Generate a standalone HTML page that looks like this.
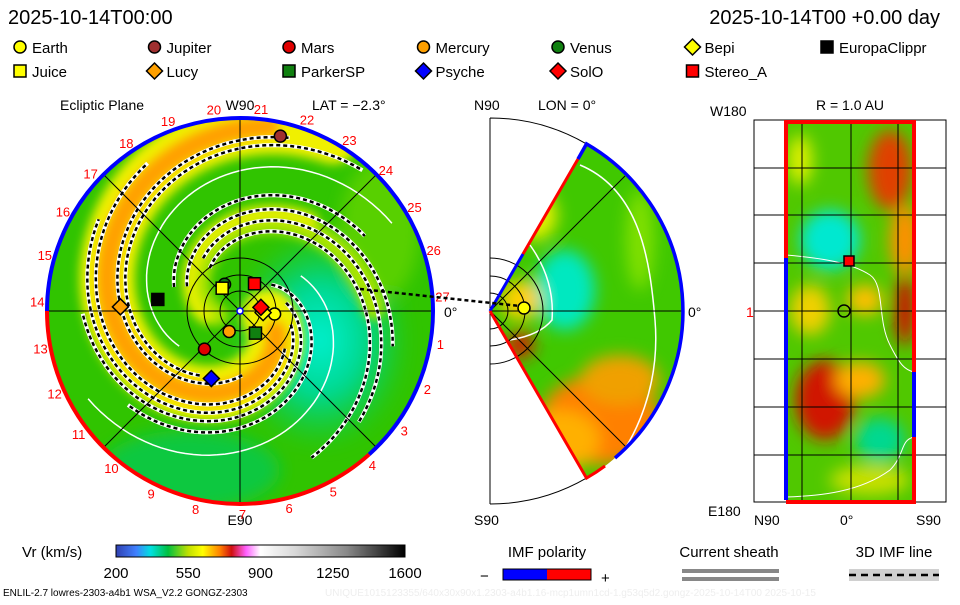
<!DOCTYPE html>
<html><head><meta charset="utf-8">
<style>
body{margin:0;background:#fff;width:960px;height:600px;overflow:hidden;font-family:"Liberation Sans",sans-serif}
svg text{font-family:"Liberation Sans",sans-serif}
</style></head>
<body>
<svg id="root" width="960" height="600" viewBox="0 0 960 600">
<defs>
 <clipPath id="eclip"><circle cx="240" cy="311" r="193"/></clipPath>
 <clipPath id="wclip"><path d="M490,311 L586.5,143.9 A193,193 0 0 1 586.5,478.1 Z"/></clipPath>
 <clipPath id="rclip"><rect x="786" y="122" width="128" height="380"/></clipPath>
 <filter id="blur8" x="-50%" y="-50%" width="200%" height="200%"><feGaussianBlur stdDeviation="8"/></filter>
 <filter id="blur4" x="-50%" y="-50%" width="200%" height="200%"><feGaussianBlur stdDeviation="5"/></filter>
 <radialGradient id="cyanG"><stop offset="0" stop-color="#00f0d0"/><stop offset="0.5" stop-color="#00d890"/><stop offset="1" stop-color="#00d060" stop-opacity="0"/></radialGradient>
 <linearGradient id="cbar" x1="0" x2="1">
  <stop offset="0" stop-color="#3040b0"/><stop offset="0.07" stop-color="#4080ff"/><stop offset="0.12" stop-color="#00e0e0"/>
  <stop offset="0.18" stop-color="#00c040"/><stop offset="0.25" stop-color="#c0e000"/><stop offset="0.3" stop-color="#ffff00"/>
  <stop offset="0.36" stop-color="#ff8000"/><stop offset="0.4" stop-color="#d01010"/><stop offset="0.45" stop-color="#ff60ff"/>
  <stop offset="0.5" stop-color="#ffffff"/><stop offset="0.62" stop-color="#d8d8d8"/><stop offset="0.8" stop-color="#888"/><stop offset="1" stop-color="#000"/>
 </linearGradient>
</defs>

<text x="8" y="24" font-size="20">2025-10-14T00:00</text>
<text x="940" y="24" font-size="20" text-anchor="end">2025-10-14T00 +0.00 day</text>
<g id="legend" font-size="15"></g>

<g>
 <text x="60" y="110" font-size="14">Ecliptic Plane</text>
 <text x="240" y="110" font-size="14" text-anchor="middle">W90</text>
 <text x="312" y="110" font-size="14">LAT = −2.3°</text>
 <text x="240" y="525" font-size="14" text-anchor="middle">E90</text>
 <text x="444" y="317" font-size="14">0°</text>
 <g clip-path="url(#eclip)">
  <circle cx="240" cy="311" r="193" fill="#30c400"/>
  <g filter="url(#blur8)">
   <ellipse cx="320" cy="340" rx="90" ry="110" fill="url(#cyanG)"/>
   <ellipse cx="190" cy="470" rx="90" ry="40" fill="#10c840"/>
   <ellipse cx="380" cy="230" rx="40" ry="70" fill="#58d000"/>
  </g>
  <g id="arms" filter="url(#blur4)"></g>
  <g id="eclines"></g>
 </g>
 <g id="ecgrid" stroke="#000" stroke-width="1" fill="none"></g>
 <g id="ecrim"></g>
 <g id="timelabels" font-size="13" fill="#ff0000"></g>
 <g id="bodies"></g>
</g>

<g>
 <text x="474" y="110" font-size="14">N90</text>
 <text x="538" y="110" font-size="14">LON = 0°</text>
 <text x="474" y="525" font-size="14">S90</text>
 <text x="688" y="317" font-size="14">0°</text>
 <path d="M490,118 A193,193 0 0 1 586.5,143.9 M586.5,478.1 A193,193 0 0 1 490,504 M490,118 L490,504" fill="none" stroke="#000" stroke-width="1"/>
 <g clip-path="url(#wclip)">
  <rect x="490" y="118" width="200" height="390" fill="#40c800"/>
  <g filter="url(#blur8)">
   <ellipse cx="600" cy="420" rx="60" ry="45" fill="#ff8000"/>
   <ellipse cx="560" cy="440" rx="40" ry="30" fill="#ffb000"/>
   <ellipse cx="620" cy="380" rx="40" ry="25" fill="#f0a000"/>
   <ellipse cx="565" cy="290" rx="30" ry="40" fill="#00e8c0"/>
   <ellipse cx="535" cy="215" rx="22" ry="25" fill="#e8f000"/>
   <ellipse cx="520" cy="300" rx="20" ry="20" fill="#ffd000"/>
   <ellipse cx="520" cy="345" rx="14" ry="14" fill="#d02000"/>
   <ellipse cx="640" cy="240" rx="14" ry="50" fill="#80e000"/>
  </g>
  <path d="M580,165 C640,190 650,260 655,320 C660,380 640,440 600,480" fill="none" stroke="#fff" stroke-width="1.5"/>
  <path d="M530,245 Q555,280 552,320 Q540,335 510,340" fill="none" stroke="#fff" stroke-width="1.5"/>
 </g>
 <g stroke="#000" fill="none" stroke-width="1">
  <path d="M490,311 L586.5,143.9 M490,311 L586.5,478.1 M490,311 L683,311 M490,311 L625,176 M490,311 L625,446"/>
  <path d="M490,258 A53,53 0 0 1 490,364 M490,276 A35,35 0 0 1 490,346 M490,293 A18,18 0 0 1 490,329"/>
 </g>
 <path d="M490,311 L523,254" stroke="#0000ff" stroke-width="3"/>
 <path d="M523,254 L578,159" stroke="#ff0000" stroke-width="3"/>
 <path d="M578,159 L586.5,143.9 A193,193 0 0 1 615,458" fill="none" stroke="#0000ff" stroke-width="3.5"/>
 <path d="M490,311 L586.5,478.1 A193,193 0 0 0 605,466" fill="none" stroke="#ff0000" stroke-width="3"/>
 <circle cx="524" cy="308" r="6" fill="#ffff00" stroke="#000" stroke-width="1.5"/>
</g>

<g>
 <text x="850" y="110" font-size="14" text-anchor="middle">R = 1.0 AU</text>
 <text x="710" y="116" font-size="14">W180</text>
 <text x="708" y="516" font-size="14">E180</text>
 <text x="754" y="525" font-size="14">N90</text>
 <text x="840" y="525" font-size="14">0°</text>
 <text x="916" y="525" font-size="14">S90</text>
 <text x="746" y="317" font-size="14" fill="#ff0000">1</text>
 <rect x="754" y="120" width="192" height="382" fill="none" stroke="#000"/>
 <g clip-path="url(#rclip)">
  <rect x="786" y="122" width="128" height="380" fill="#50c800"/>
  <g filter="url(#blur8)">
   <ellipse cx="890" cy="170" rx="22" ry="40" fill="#e04000"/>
   <ellipse cx="905" cy="240" rx="15" ry="35" fill="#ff9000"/>
   <ellipse cx="830" cy="240" rx="30" ry="30" fill="#00e8d0"/>
   <ellipse cx="825" cy="400" rx="30" ry="40" fill="#d01800"/>
   <ellipse cx="860" cy="380" rx="25" ry="18" fill="#ffb000"/>
   <ellipse cx="905" cy="310" rx="10" ry="35" fill="#d01000"/>
   <ellipse cx="810" cy="310" rx="20" ry="25" fill="#f0d000"/>
   <ellipse cx="865" cy="300" rx="18" ry="15" fill="#ffc000"/>
   <ellipse cx="880" cy="440" rx="25" ry="22" fill="#00d890"/>
   <ellipse cx="800" cy="160" rx="12" ry="25" fill="#e0f000"/>
   <ellipse cx="870" cy="480" rx="40" ry="15" fill="#c8e000"/>
  </g>
  <path d="M786,255 C820,258 850,262 870,275 C885,285 877,320 890,345 C900,365 905,370 914,372" fill="none" stroke="#fff" stroke-width="1"/>
  <path d="M786,497 C820,496 860,492 890,470 C905,455 900,440 914,437" fill="none" stroke="#fff" stroke-width="1"/>
 </g>
 <g stroke="#000" stroke-width="1" id="rgrid"></g>
 <path d="M786,258 L786,122 L914,122 L914,372 M914,437 L914,502 L786,502" fill="none" stroke="#ff0000" stroke-width="4"/>
 <path d="M786,258 L786,500 M914,372 L914,437" fill="none" stroke="#0000ff" stroke-width="4"/>
 <rect x="844" y="256" width="10" height="10" fill="#ff0000" stroke="#000" stroke-width="1.5"/>
 <circle cx="844" cy="311" r="6" fill="none" stroke="#000" stroke-width="1.5"/>
</g>

<g>
 <text x="22" y="557" font-size="15">Vr (km/s)</text>
 <rect x="116" y="545" width="289" height="12" fill="url(#cbar)" stroke="#000"/>
 <g id="cbticks" font-size="15" text-anchor="middle"></g>
</g>
<g>
 <text x="547" y="557" font-size="15" text-anchor="middle">IMF polarity</text>
 <rect x="503" y="569" width="44" height="11" fill="#0000ff"/>
 <rect x="547" y="569" width="44" height="11" fill="#ff0000"/>
 <rect x="503" y="569" width="88" height="11" fill="none" stroke="#000"/>
 <text x="480" y="581" font-size="15">−</text><text x="601" y="583" font-size="15">+</text>
</g>
<g>
 <text x="729" y="557" font-size="15" text-anchor="middle">Current sheath</text>
 <rect x="682" y="569" width="97" height="4" fill="#888"/>
 <rect x="682" y="577" width="97" height="4" fill="#888"/>
</g>
<g>
 <text x="894" y="557" font-size="15" text-anchor="middle">3D IMF line</text>
 <rect x="849" y="569" width="90" height="12" fill="#d0d0d0"/>
 <line x1="849" y1="575" x2="939" y2="575" stroke="#000" stroke-width="2.5" stroke-dasharray="7,5"/>
</g>
<text x="3" y="596" font-size="10">ENLIL-2.7 lowres-2303-a4b1 WSA_V2.2 GONGZ-2303</text>
<text x="325" y="596" font-size="10" fill="#eeeeee">UNIQUE1015123355/640x30x90x1.2303-a4b1.16-mcp1umn1cd-1.g53q5d2.gongz-2025-10-14T00   2025-10-15</text>
</svg>
<script>
const NS='http://www.w3.org/2000/svg';
const bodyNames=['Earth','Jupiter','Mars','Mercury','Venus','Bepi','EuropaClippr','Juice','Lucy','ParkerSP','Psyche','SolO','Stereo_A'];
const bodyFill=['#ffff00','#a03030','#e00000','#ffa000','#108010','#ffff00','#000000','#ffff00','#ffa000','#108010','#0000ff','#ff0000','#ff0000'];
const bodyShape=['c','c','c','c','c','d','s','s','d','s','d','d','s'];
const bodyR=[0.18,0.93,0.27,0.12,0.16,0.12,0.43,0.15,0.62,0.14,0.38,0.11,0.16];
const bodyAng=[-5,77,-133,-118,120,-4,172,128,178,-55,-113,10,62];
const cbTicks=[200,550,900,1250,1600];
const armStart=[40,40,230,250];
const armFrom=[50,70,40,60];
const armTo=[340,320,230,200];
const armWidth=[55,22,22,14];
const armColor=['#f0f000','#ffa000','#a8e400','#e8f000'];
const dashStart=[8,22,60,75,90,110,215,235,255,280];
const dashFrom=[130,110,100,90,80,70,90,110,100,120];
const dashTo=[320,310,300,290,270,250,280,280,270,250];
const timeNums=Array.from({length:27},(_,i)=>i+1);
const CX=240,CY=311,R=193;
function el(t,a,p){const e=document.createElementNS(NS,t);for(const k in a)e.setAttribute(k,a[k]);p.appendChild(e);return e;}
function pol(r,a){const t=a*Math.PI/180;return [CX+r*Math.cos(t),CY-r*Math.sin(t)];}
function spiral(p0,d0,d1){let pts=[];for(let d=d0;d<=d1;d+=3){const r=R*d/330;pts.push(pol(r,p0-d));}return 'M'+pts.map(p=>p[0].toFixed(1)+','+p[1].toFixed(1)).join(' L');}
const lg=document.getElementById('legend');
bodyNames.forEach((n,i)=>{const col=i<7?i:i-7,row=i<7?0:1;const x=20+col*134.5,y=48+row*24;
 const g=el('g',{},lg);
 
 
 mk(g,bodyShape[i],x,y-1,6,bodyFill[i]);
 const t=el('text',{x:x+12,y:y+5},g);t.textContent=n;});
function mk(g,s,x,y,r,f){if(s=='c')return el('circle',{cx:x,cy:y,r:r,fill:f,stroke:'#000','stroke-width':1.5},g);
 if(s=='s')return el('rect',{x:x-r,y:y-r,width:2*r,height:2*r,fill:f,stroke:'#000','stroke-width':1.5},g);
 return el('path',{d:`M${x},${y-r-2}L${x+r+2},${y}L${x},${y+r+2}L${x-r-2},${y}Z`,fill:f,stroke:'#000','stroke-width':1.5},g);}
const arms=document.getElementById('arms');
armStart.forEach((p,i)=>{
 const a=el('path',{d:spiral(p,armFrom[i],armTo[i]),fill:'none',stroke:armColor[i],'stroke-width':armWidth[i],'stroke-linecap':'round'},arms);
 
 
});
const lines=document.getElementById('eclines');
dashStart.forEach((p,i)=>{const d=spiral(p,dashFrom[i],dashTo[i]);
 el('path',{d:d,fill:'none',stroke:'#fff','stroke-width':4},lines);
 const l=el('path',{d:d,fill:'none',stroke:'#000','stroke-width':2.5,'stroke-dasharray':'4,3'},lines);
 
 });
[150,330].forEach(p=>el('path',{d:spiral(p,120,300),fill:'none',stroke:'#fff','stroke-width':1.5},lines));
el('path',{d:`M${CX+120},${CY-22} L${CX+280},${CY-5}`,stroke:'#000','stroke-width':2.5,'stroke-dasharray':'4,3'},document.getElementById('root'));
const gr=document.getElementById('ecgrid');
[0,45,90,135].forEach(a=>{const p1=pol(R,a),p2=pol(R,a+180);el('line',{x1:p1[0],y1:p1[1],x2:p2[0],y2:p2[1]},gr);});
[20,36,53].forEach(r=>el('circle',{cx:CX,cy:CY,r:r},gr));
const rim=document.getElementById('ecrim');
function arc(a1,a2,c){const p1=pol(R,a1),p2=pol(R,a2);const large=Math.abs(a2-a1)>180?1:0;
 el('path',{d:`M${p1[0]},${p1[1]} A${R},${R} 0 ${large} 0 ${p2[0]},${p2[1]}`,fill:'none',stroke:c,'stroke-width':4},rim);}
arc(-48,180,'#0000ff');arc(180,312,'#ff0000');
const tl=document.getElementById('timelabels');
timeNums.forEach(n=>{const p=pol(R+10,4-n*13.33);const t=el('text',{x:p[0],y:p[1]+5,'text-anchor':'middle'},tl);t.textContent=n;
 });
const bg=document.getElementById('bodies');
bodyNames.forEach((n,i)=>{const p=pol(bodyR[i]*R,bodyAng[i]);const m=mk(bg,bodyShape[i],p[0],p[1],6,bodyFill[i]);
 
 });
el('circle',{cx:CX,cy:CY,r:3,fill:'#fff',stroke:'#00f','stroke-width':1.5},bg);
const rg=document.getElementById('rgrid');
[802,851,898].forEach(x=>el('line',{x1:x,y1:120,x2:x,y2:502},rg));
[168,215,263,311,359,407,455].forEach(y=>el('line',{x1:754,y1:y,x2:946,y2:y},rg));
const cb=document.getElementById('cbticks');
cbTicks.forEach(v=>{const x=116+(v-200)/1400*289;const t=el('text',{x:x,y:578},cb);t.textContent=v;
 });
</script>
</body></html>
